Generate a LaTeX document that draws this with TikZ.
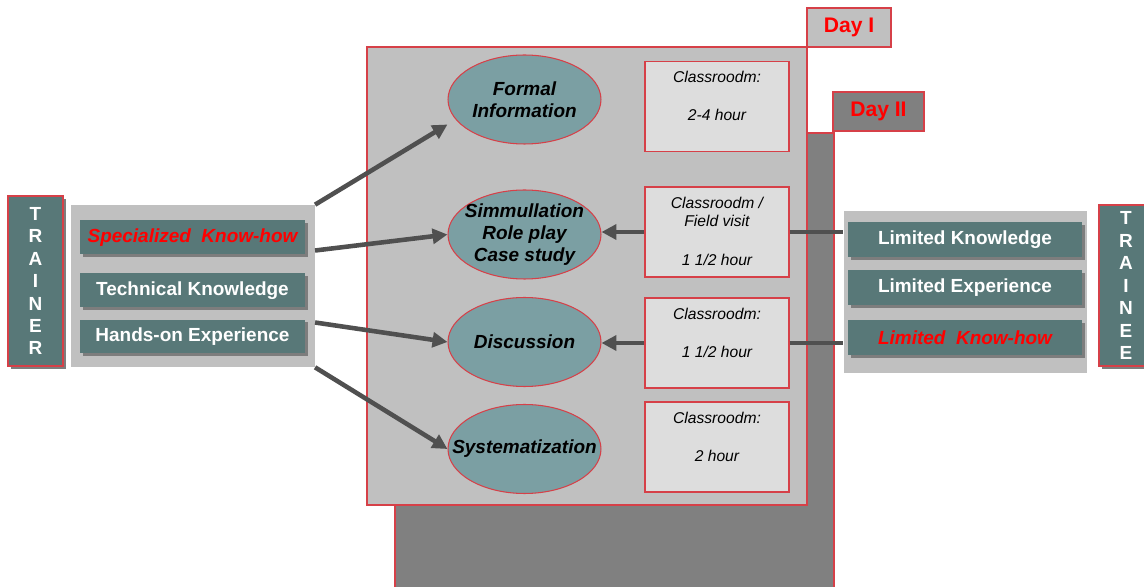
\documentclass[tikz,border=0pt]{standalone}
\usepackage{fontspec}
\setmainfont{Liberation Sans}
\usepackage{xcolor}
\usepackage{tikz}
\usetikzlibrary{shapes.geometric, arrows.meta, shadows}

\definecolor{slate}{RGB}{88,120,120}
\definecolor{stagefill}{RGB}{123,159,163}
\definecolor{dayone}{RGB}{192,192,192}
\definecolor{daytwo}{RGB}{128,128,128}
\definecolor{notefill}{RGB}{221,221,221}
\definecolor{rim}{RGB}{214,64,72}
\definecolor{flowgray}{RGB}{80,80,80}
\definecolor{shade}{RGB}{125,125,125}

\begin{document}
\begin{tikzpicture}[
            x=0.02cm, y=-0.02cm,
            daybox/.style={draw=rim, line width=0.6pt},
            daytag/.style={draw=rim, line width=0.6pt, text=red, minimum height=0.78cm,
                font=\bfseries\fontsize{12}{14}\selectfont},
            panel/.style={fill=dayone, minimum width=4.87cm, minimum height=3.24cm},
            skillbox/.style={fill=slate, text=white, minimum width=4.5cm, minimum height=0.68cm,
                font=\bfseries\fontsize{10.8}{13}\selectfont,
                drop shadow={shadow xshift=0.06cm, shadow yshift=-0.06cm, fill=shade, opacity=1}},
            lackbox/.style={skillbox, minimum width=4.68cm, minimum height=0.7cm},
            rolebox/.style={fill=slate, draw=rim, line width=0.6pt, text=white, align=center,
                font=\bfseries\fontsize{10.8}{12.8}\selectfont,
                drop shadow={shadow xshift=0.06cm, shadow yshift=-0.06cm, fill=shade, opacity=1}},
            stage/.style={ellipse, fill=stagefill, draw=rim, line width=0.6pt, inner sep=0pt,
                minimum width=3.06cm, minimum height=1.78cm},
            stagetext/.style={align=center, font=\bfseries\itshape\fontsize{10.8}{12.6}\selectfont},
            note/.style={fill=notefill, draw=rim, line width=0.6pt, minimum width=2.88cm, minimum height=1.8cm},
            notetext/.style={anchor=north, yshift=-0.08cm, align=center,
                font=\itshape\fontsize{8.9}{10.8}\selectfont},
            flow/.style={draw=flowgray, line width=2.6pt, -{Triangle[length=8.5pt, width=8.5pt]}},
            feed/.style={draw=flowgray, line width=2.6pt}
        ]
        \useasboundingbox (0,0) rectangle (1144,587);

        % Day II and Day I frames
        \draw[daybox, fill=daytwo] (395,133) rectangle (834,595);
        \draw[daybox, fill=dayone] (367,47) rectangle (807,505);
        \node[daytag, fill=dayone, minimum width=1.68cm] (dayI) at (849,27.5) {Day I};
        \node[daytag, fill=daytwo, minimum width=1.82cm] (dayII) at (878.5,111.5) {Day II};

        % Trainer side
        \node[rolebox, minimum width=1.1cm, minimum height=3.4cm] (trainer) at (35.5,281) {T\\R\\A\\I\\N\\E\\R};
        \node[panel] (skills) at (193,286) {};
        \node[skillbox, text=red, font=\bfseries\itshape\fontsize{10.8}{13}\selectfont] (knowhow) at (192.5,237.5) {Specialized\ \ Know-how};
        \node[skillbox] (technical) at (192.5,290.5) {Technical Knowledge};
        \node[skillbox] (handson) at (192.5,336.5) {Hands-on Experience};

        % Trainee side
        \node[panel] (lacks) at (965.5,292) {};
        \node[lackbox] (limknow) at (965,239.5) {Limited Knowledge};
        \node[lackbox] (limexp) at (965,287.5) {Limited Experience};
        \node[lackbox, text=red, font=\bfseries\itshape\fontsize{10.8}{13}\selectfont] (limhow) at (965,337.5) {Limited\ \ Know-how};
        \node[rolebox, minimum width=1.08cm, minimum height=3.22cm] (trainee) at (1126,285.5) {T\\R\\A\\I\\N\\E\\E};

        % Training stages
        \node[stage] (formal) at (524.5,99.5) {};
        \node[stagetext] at (formal) {Formal\\Information};
        \node[stage] (roleplay) at (524.5,234.5) {};
        \node[stagetext] at (roleplay) {Simmullation\\Role play\\Case study};
        \node[stage] (discussion) at (524.5,342) {};
        \node[stagetext] at (discussion) {Discussion};
        \node[stage] (system) at (524.5,449) {};
        \node[stagetext] at (system) {Systematization};

        % Time notes
        \node[note] (note1) at (717,106.5) {};
        \node[notetext] at (note1.north) {Classroodm:\\[11pt]2-4 hour};
        \node[note] (note2) at (717,232) {};
        \node[notetext] at (note2.north) {Classroodm /\\Field visit\\[11pt]1 1/2 hour};
        \node[note] (note3) at (717,343) {};
        \node[notetext] at (note3.north) {Classroodm:\\[11pt]1 1/2 hour};
        \node[note] (note4) at (717,447) {};
        \node[notetext] at (note4.north) {Classroodm:\\[11pt]2 hour};

        % Connectors
        \draw[flow] (skills.north east) -- ([yshift=-0.5cm]formal.west);
        \draw[flow] ([yshift=0.71cm]skills.east) -- (roleplay.west);
        \draw[flow] ([yshift=-0.73cm]skills.east) -- (discussion.west);
        \draw[flow] (skills.south east) -- (system.west);
        \draw[flow] (note2.west) -- (note2.west -| roleplay.east);
        \draw[flow] (note3.west) -- (note3.west -| discussion.east);
        \draw[feed] (note2.east) -- (note2.east -| lacks.west);
        \draw[feed] (note3.east) -- (note3.east -| lacks.west);
    \end{tikzpicture}
\end{document}
